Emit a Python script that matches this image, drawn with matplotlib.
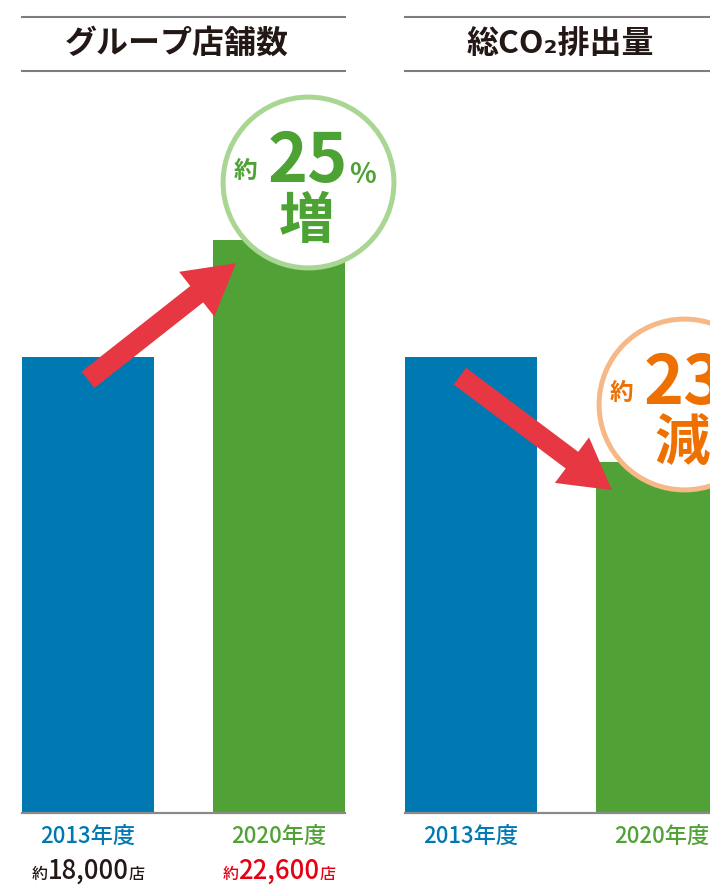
import matplotlib
matplotlib.use('Agg')
import matplotlib.pyplot as plt
from matplotlib.patches import FancyArrowPatch

plt.rcParams['font.family'] = ['Noto Sans CJK JP', 'DejaVu Sans']

# data
years = ['2013年度', '2020年度']
stores = [18000, 22600]
store_labels = ['18,000', '22,600']
co2_index = [100, 77]      # 2013 = 100, about 23% less in 2020

blue = '#0079B3'
green = '#51A236'
red = '#E63743'
dark = '#231815'
grey = '#7d7d7d'

W, H = 710, 885
fig = plt.figure(figsize=(W / 100, H / 100), dpi=100)


def px_axes(x0, y0, x1, y1):
    # axes from pixel box (origin top-left)
    return fig.add_axes([x0 / W, 1 - y1 / H, (x1 - x0) / W, (y1 - y0) / H])


bw = 0.691
arrow_style = 'simple,head_length=36,head_width=41,tail_width=15'


def panel(x0, title, values, ymax, tail, tip, centre, ring, tcol, pct, word):
    ax = px_axes(x0, 90, x0 + 323, 813)
    ax.bar([0, 1], values, width=bw, color=[blue, green], zorder=1)
    ax.set_xlim(-bw / 2, 1 + bw / 2)
    ax.set_ylim(0, ymax)
    for s in ['top', 'right', 'left']:
        ax.spines[s].set_visible(False)
    ax.spines['bottom'].set_color('#8a8a8a')
    ax.spines['bottom'].set_linewidth(1.6)
    ax.set_xticks([])
    ax.set_yticks([])

    # red arrow
    ax.add_patch(FancyArrowPatch(tail, tip, arrowstyle=arrow_style, mutation_scale=1,
                                 color=red, lw=0, shrinkA=0, shrinkB=0, zorder=3,
                                 clip_on=False))
    # badge circle
    ax.plot([centre[0]], [centre[1]], marker='o', ms=123, mfc='white', mec=ring,
            mew=3.6, zorder=4, clip_on=False)
    kw = dict(xy=centre, textcoords='offset points', ha='center', va='center',
              color=tcol, weight='bold', zorder=5, annotation_clip=False)
    ax.annotate('約', xytext=(-45, 8), fontsize=17, **kw)
    ax.annotate(pct, xytext=(0, 14), fontsize=49, **kw)
    ax.annotate('%', xytext=(39, 5), fontsize=20, **kw)
    ax.annotate(word, xytext=(-1, -29), fontsize=40, **kw)

    # year labels under bars
    for i, (y, c) in enumerate(zip(years, [blue, green])):
        ax.annotate(y, xy=(i, 0), xytext=(0, -17), textcoords='offset points',
                    ha='center', va='center', fontsize=16, color=c, weight='medium',
                    annotation_clip=False)

    # header with two rules
    hx = px_axes(x0, 17, x0 + 323, 71)
    hx.set_xticks([])
    hx.set_yticks([])
    hx.patch.set_visible(False)
    for s in ['left', 'right']:
        hx.spines[s].set_visible(False)
    for s in ['top', 'bottom']:
        hx.spines[s].set_color(grey)
        hx.spines[s].set_linewidth(1.5)
    hx.text(0.48, 0.5, title, ha='center', va='center', fontsize=23,
            color=dark, weight='bold', transform=hx.transAxes)
    return ax


ax1 = panel(22, 'グループ店舗数', stores, stores[0] * 723 / 456,
            (0.0, 17100), (0.775, 21700), (1.152, 24900),
            '#A9D693', '#4DA234', '25', '増')
ax2 = panel(405, '総CO₂排出量', co2_index, co2_index[0] * 723 / 456,
            (-0.058, 95.8), (0.738, 70.8), (1.115, 89.7),
            '#F6B887', '#EE7000', '23', '減')

# store counts under the left panel
for i, (lab, c) in enumerate(zip(store_labels, [dark, '#E60012'])):
    num = ax1.annotate(lab, xy=(i, 0), xytext=(0, -42), textcoords='offset points',
                       ha='center', va='center', fontsize=18.5, color=c,
                       weight='medium', annotation_clip=False)
    ax1.annotate('約', xy=(0, 0.08), xycoords=num, ha='right', va='bottom',
                 fontsize=11.5, color=c, weight='medium')
    ax1.annotate('店', xy=(1, 0.08), xycoords=num, ha='left', va='bottom',
                 fontsize=11.5, color=c, weight='medium')

fig.savefig('out.png', dpi=100)
